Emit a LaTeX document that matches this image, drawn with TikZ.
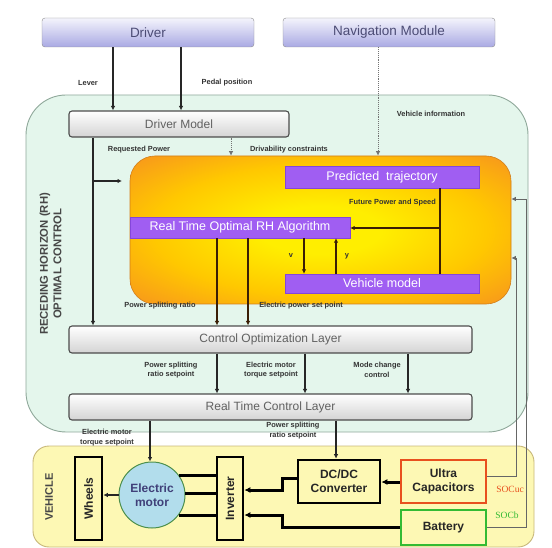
\documentclass[tikz,border=0pt]{standalone}
\usepackage{fontspec}
\setmainfont{Liberation Sans}
\newfontfamily\socfont{Liberation Serif}
\usetikzlibrary{arrows.meta}
\definecolor{orgin}{HTML}{FFEE00}
\definecolor{orgmid}{HTML}{FFC800}
\definecolor{orgout}{HTML}{F7931E}
\definecolor{mint}{HTML}{E4F6EC}
\definecolor{mintedge}{HTML}{8FA89A}
\definecolor{vehfill}{HTML}{FDF8B4}
\definecolor{vehedge}{HTML}{C8B87A}
\definecolor{purp}{HTML}{A05EF2}
\definecolor{purpedge}{HTML}{8446DA}
\definecolor{lavtop}{HTML}{F4F4FC}
\definecolor{lavbot}{HTML}{A9A9E3}
\definecolor{brn}{HTML}{3A1E05}
\definecolor{ucred}{HTML}{E8501E}
\definecolor{batgreen}{HTML}{33BB33}
\definecolor{motorblue}{HTML}{B2DDEC}
\pgfdeclareradialshading{orangeglow}{\pgfpoint{0bp}{0bp}}{color(0bp)=(orgin); color(8bp)=(orgin); color(22bp)=(orgmid); color(36bp)=(orgout); color(50bp)=(orgout)}
\tikzset{
  topbox/.style={draw=black!45, rounded corners=3pt, top color=lavtop, bottom color=lavbot, text=black!60!blue!40!gray, font=\fontsize{13.5}{15}\selectfont, inner sep=0pt},
  graybox/.style={draw=black!70, line width=1.1pt, rounded corners=3pt, top color=white, bottom color=black!17, text=black!62, font=\fontsize{12}{14}\selectfont, inner sep=0pt},
  purpbox/.style={draw=purpedge, fill=purp, text=white, font=\fontsize{12.5}{14}\selectfont, inner sep=0pt},
  vbox/.style={draw=black, line width=2.6pt, text=black!85, font=\bfseries\fontsize{12}{14}\selectfont, align=center, inner sep=0pt},
  lbl/.style={font=\bfseries\fontsize{7.4}{9.5}\selectfont, text=black!80, align=center, inner sep=0pt},
  ln/.style={draw=black!85, line width=1.1pt},
  dotln/.style={draw=black!55, line width=0.9pt, densely dotted},
  brnln/.style={draw=brn, line width=2.3pt},
  midln/.style={draw=black!85, line width=1.9pt},
  vthick/.style={draw=black, line width=3pt},
  thinln/.style={draw=black!60, line width=0.9pt},
  arr/.style={-{Latex[length=4.5pt,width=4.5pt]}},
  barr/.style={-{Latex[length=6pt,width=6pt]}}
}
\begin{document}
\begin{tikzpicture}[x=1pt,y=-1pt]
\useasboundingbox (0,0) rectangle (552,548);
% regions
\node[draw=mintedge, fill=mint, line width=0.9pt, rounded corners=40pt, minimum width=502pt, minimum height=337pt, inner sep=0pt] (rh) at (277,263.5) {};
\node[draw=vehedge, fill=vehfill, line width=0.9pt, rounded corners=16pt, minimum width=501pt, minimum height=101pt, inner sep=0pt] (veh) at (283.5,496.5) {};
\node[draw=orgout!85!black, shading=orangeglow, line width=0.6pt, rounded corners=25pt, minimum width=381pt, minimum height=148pt, inner sep=0pt] (orb) at (320.5,230) {};
% top boxes
\node[topbox, minimum width=212pt, minimum height=29pt] (drv) at (148,32.5) {Driver};
\node[topbox, minimum width=212pt, minimum height=29pt] (nav) at (389,32.5) {Navigation Module};
% gray layers
\node[graybox, minimum width=220pt, minimum height=26pt] (dm) at (179,124) {Driver Model};
\node[graybox, minimum width=403pt, minimum height=27pt] (col) at (270.5,339.5) {Control Optimization Layer};
\node[graybox, minimum width=403pt, minimum height=26pt] (rtcl) at (270.5,407) {Real Time Control Layer};
% purple boxes
\node[purpbox, minimum width=194pt, minimum height=22pt] (pt) at (382,177) {Predicted\ \ trajectory};
\node[purpbox, minimum width=220pt, minimum height=21pt] (rt) at (240,227.5) {Real Time Optimal RH Algorithm};
\node[purpbox, minimum width=194pt, minimum height=19pt] (vm) at (382,283.5) {Vehicle model};
% vehicle components
\node[vbox, minimum width=27pt, minimum height=83pt] (wh) at (88.5,498.5) {\rotatebox{90}{Wheels}};
\node[vbox, minimum width=26pt, minimum height=83pt] (inv) at (230,498.5) {\rotatebox{90}{Inverter}};
\node[vbox, minimum width=82pt, minimum height=43pt] (dcdc) at (339,481.5) {DC/DC\\Converter};
\node[vbox, draw=ucred, minimum width=85pt, minimum height=43pt] (uc) at (443.5,481.5) {Ultra\\Capacitors};
\node[vbox, draw=batgreen, minimum width=85pt, minimum height=35pt] (bat) at (443.5,527.5) {Battery};
\node[circle, draw=black!35!green!40!gray, line width=1pt, fill=motorblue, minimum size=66pt, inner sep=0pt, text=blue!30!black!75, font=\bfseries\fontsize{12}{13.5}\selectfont, align=center] (motor) at (152,495) {Electric\\motor};
% side titles
\node[font=\bfseries\fontsize{11.3}{13.5}\selectfont, text=black!72, align=center] (rhtitle) at (52,264) {\rotatebox{90}{\begin{tabular}{@{}c@{}}RECEDING HORIZON (RH)\\OPTIMAL CONTROL\end{tabular}}};
\node[font=\bfseries\fontsize{11}{13}\selectfont, text=black!72] (vehtitle) at (49,497) {\rotatebox{90}{VEHICLE}};
% labels
\node[lbl] (l1) at (88,83) {Lever};
\node[lbl] (l2) at (227,83) {Pedal position};
\node[lbl] (l3) at (431,114) {Vehicle information};
\node[lbl] (l4) at (139,150) {Requested Power};
\node[lbl] (l5) at (289,150) {Drivability constraints};
\node[lbl, anchor=east] (l6) at (436,203) {Future Power and Speed};
\node[lbl] (l7) at (291,256) {v};
\node[lbl] (l8) at (347,256) {y};
\node[lbl] (l9) at (160,306) {Power splitting ratio};
\node[lbl] (l10) at (301,306) {Electric power set point};
\node[lbl] (l11) at (171,370) {Power splitting\\ratio setpoint};
\node[lbl] (l12) at (271,370) {Electric motor\\torque setpoint};
\node[lbl] (l13) at (377,370) {Mode change\\control};
\node[lbl] (l14) at (107,437.5) {Electric motor\\torque setpoint};
\node[lbl] (l15) at (293,430.5) {Power splitting\\ratio setpoint};
\node[font=\socfont\fontsize{9.5}{11}\selectfont, text=ucred] (soc1) at (510,489) {SOCuc};
\node[font=\socfont\fontsize{9.5}{11}\selectfont, text=batgreen] (soc2) at (507,515) {SOCb};
% connectors top
\draw[ln,arr] (113,0 |- drv.south) -- (113,0 |- dm.north);
\draw[ln,arr] (181,0 |- drv.south) -- (181,0 |- dm.north);
\draw[dotln,arr] (378,0 |- nav.south) -- (378,0 |- orb.north);
\draw[dotln,arr] (231,0 |- dm.south) -- (231,0 |- orb.north);
\draw[ln,arr] (93,0 |- dm.south) -- (93,0 |- col.north);
\coordinate (rpj) at (93,181);
\coordinate (rpend) at (122,181);
\draw[ln,arr] (rpj) -- (rpend);
% inside orange
\draw[brnln] (440,0 |- pt.south) -- (440,0 |- vm.north);
\coordinate (fps) at (440,228);
\draw[brnln,arr] (fps) -- (rt.east |- fps);
\draw[brnln,arr] (304,0 |- rt.south) -- (304,0 |- vm.north);
\draw[brnln,arr] (336,0 |- vm.north) -- (336,0 |- rt.south);
\draw[brnln,arr] (217,0 |- rt.south) -- (217,0 |- col.north);
\draw[brnln,arr] (248,0 |- rt.south) -- (248,0 |- col.north);
% col -> rtcl
\draw[midln,arr] (217,0 |- col.south) -- (217,0 |- rtcl.north);
\draw[midln,arr] (305,0 |- col.south) -- (305,0 |- rtcl.north);
\draw[midln,arr] (408,0 |- col.south) -- (408,0 |- rtcl.north);
% rtcl -> vehicle
\draw[midln,arr] (150,0 |- rtcl.south) -- (150,0 |- motor.north);
\draw[midln,arr] (336,0 |- rtcl.south) -- (336,0 |- dcdc.north);
% vehicle
\draw[ln,arr] (motor.west) -- (wh.east |- motor.west);
\draw[vthick] (motor.35) -- (inv.west |- motor.35);
\draw[vthick] (motor.3) -- (inv.west |- motor.3);
\draw[vthick] (motor.-37) -- (inv.west |- motor.-37);
\draw[vthick,barr] (dcdc.west |- 0,478) -- (282,478) -- (282,490) -- (inv.east |- 0,490);
\draw[vthick,barr] (bat.west |- 0,527) -- (282,527) -- (282,515) -- (inv.east |- 0,515);
\draw[vthick,barr] (uc.west |- 0,482) -- (dcdc.east |- 0,482);
% SOC feedback
\draw[thinln,arr] (uc.east |- 0,476) -- (516,476) -- (516,258) -- (orb.east |- 0,258);
\draw[thinln,arr] (bat.east |- 0,527) -- (526,527) -- (526,199) -- (orb.east |- 0,199);
\end{tikzpicture}
\end{document}
